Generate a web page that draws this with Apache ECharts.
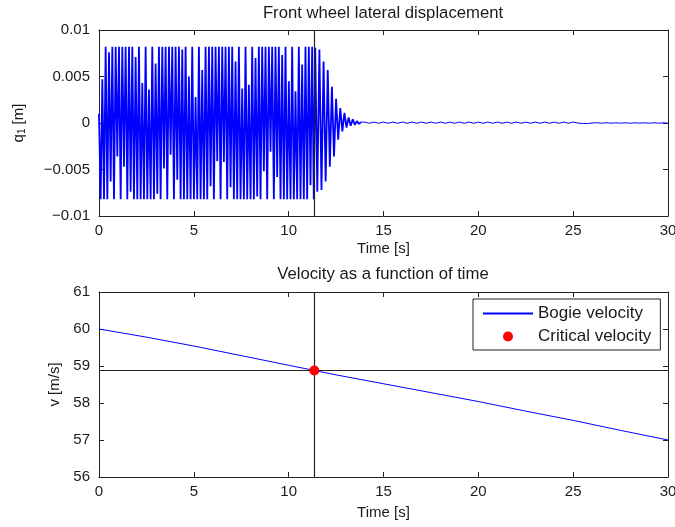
<!DOCTYPE html>
<html>
<head>
<meta charset="utf-8">
<script src="https://cdn.jsdelivr.net/npm/echarts@6/dist/echarts.min.js"></script>
<style>
html,body{margin:0;padding:0;background:#fff;overflow:hidden;}
#chart{width:675px;height:527px;}
</style>
</head>
<body>
<div id="chart"></div>
<script>
// ---- Top plot: front wheel lateral displacement q1 [m] ----
const q1OscStart = 0;
const q1OscStep = 0.0878;
const q1OscValues = [
  0.0010,-0.0082, 0.0047,-0.0082,  0.0082,-0.0082, 0.0076,-0.0063,
  0.0082,-0.0082, 0.0082,-0.0036,  0.0082,-0.0082, 0.0082,-0.0047,
  0.0082,-0.0082, 0.0082,-0.0074,  0.0082,-0.0082, 0.0071,-0.0082,
  0.0082,-0.0082, 0.0043,-0.0082,  0.0082,-0.0082, 0.0036,-0.0082,
  0.0082,-0.0082, 0.0064,-0.0076,  0.0082,-0.0082, 0.0082,-0.0049,
  0.0082,-0.0082, 0.0082,-0.0034,  0.0082,-0.0082, 0.0082,-0.0061,
  0.0082,-0.0082, 0.0079,-0.0082,  0.0082,-0.0082, 0.0050,-0.0082,
  0.0082,-0.0082, 0.0028,-0.0082,  0.0082,-0.0082, 0.0057,-0.0082,
  0.0082,-0.0082, 0.0082,-0.0068,  0.0082,-0.0082, 0.0082,-0.0041,
  0.0082,-0.0082, 0.0082,-0.0042,  0.0082,-0.0082, 0.0082,-0.0069,
  0.0082,-0.0082, 0.0066,-0.0082,  0.0082,-0.0082, 0.0037,-0.0082,
  0.0082,-0.0082, 0.0041,-0.0082,  0.0082,-0.0082, 0.0070,-0.0079,
  0.0082,-0.0082, 0.0082,-0.0052,  0.0082,-0.0082, 0.0082,-0.0031,
  0.0082,-0.0082, 0.0082,-0.0058,  0.0082,-0.0082, 0.0073,-0.0082,
  0.0082,-0.0082, 0.0045,-0.0082,  0.0082,-0.0082, 0.0034,-0.0082,
  0.0082,-0.0082, 0.0063,-0.0082,  0.0082,-0.0082, 0.0082,-0.0067,
  0.0082,-0.0082
];
const q1DecayStart = 11.40;
const q1DecayStep = 0.11;
const q1DecayValues = [
  0.0081,-0.0074, 0.0079,-0.0072, 0.0066,-0.0063, 0.0057,-0.0047, 0.0039,-0.0036,
  0.0026,-0.0018, 0.0016,-0.0009, 0.0011,-0.0005, 0.0006,-0.0003, 0.0004,-0.0002,
  0.0002,-0.0001, 0.0001
];
const q1TailStart = 14.0;
const q1TailStep = 0.25;
const q1TailValues = [
  0.0001,-0.00003, 0.0001,-0.00003, 0.0001,-0.00003, 0.0001,-0.00003, 0.0001,-0.00003,
  0.0001,-0.00003, 0.0001,-0.00003, 0.0001,-0.00003, 0.0001,-0.00003, 0.0001,-0.00003,
  0.0001,-0.00003, 0.0001,-0.00003, 0.0001,-0.00003, 0.0001,-0.00003, 0.0001,-0.00003,
  0.0001,-0.00003, 0.0001,-0.00003, 0.0001,-0.00003, 0.0001,-0.00003, 0.0001,-0.00003,
  0.0001,-0.00003, 0.0001,-0.00003, 0.0001,
  0.0, -0.00006, -0.00006, 0.0, 0.00003, -0.00002,
  0.00002,-0.00002, 0.00002,-0.00002, 0.00002,-0.00002, 0.00002,
  -0.00002, 0.00002,-0.00002, 0.00002,-0.00002, 0.00002,-0.00002
];
const q1YTicks = ['\u22120.01', '\u22120.005', '0', '0.005', '0.01'];

// ---- Bottom plot: velocity ----
const velTime   = [0, 2.5, 5, 7.5, 10, 12.5, 15, 17.5, 20, 22.5, 25, 27.5, 30];
const velValues = [60.0, 59.78, 59.54, 59.28, 59.02, 58.76, 58.52, 58.28, 58.04, 57.78, 57.53, 57.26, 57.0];
const critTime = 11.35;
const critVelocity = 58.88;
const timeTicks = ['0', '5', '10', '15', '20', '25', '30'];
const velTicks = ['56', '57', '58', '59', '60', '61'];

function toPairs(start, step, vals) {
  return vals.map((v, i) => [start + i * step, v]);
}
const q1OscData = toPairs(q1OscStart, q1OscStep, q1OscValues)
  .concat(toPairs(q1DecayStart, q1DecayStep, q1DecayValues));
const q1TailData = [q1OscData[q1OscData.length - 1]]
  .concat(toPairs(q1TailStart, q1TailStep, q1TailValues));
const velData = velTime.map((t, i) => [t, velValues[i]]);

const FONT = 'Liberation Sans, Arial, sans-serif';
const TXT = '#1a1a1a';
const AX = '#222';

function xAxisBottom(gridIndex, gap) {
  return {
    type: 'value', gridIndex, min: 0, max: 30, interval: 5, position: 'bottom',
    name: 'Time [s]', nameLocation: 'middle', nameGap: gap,
    nameTextStyle: { fontFamily: FONT, fontSize: 15, color: TXT },
    axisLine: { show: true, onZero: false, lineStyle: { color: AX, width: 1 } },
    axisTick: { show: true, inside: true, length: 5, lineStyle: { color: AX } },
    axisLabel: { margin: 7, fontFamily: FONT, fontSize: 15, color: TXT,
      formatter: (v, i) => timeTicks[i] },
    splitLine: { show: false }
  };
}
function xAxisTop(gridIndex) {
  return {
    type: 'value', gridIndex, min: 0, max: 30, interval: 5, position: 'top',
    axisLine: { show: true, onZero: false, lineStyle: { color: AX, width: 1 } },
    axisTick: { show: true, inside: true, length: 5, lineStyle: { color: AX } },
    axisLabel: { show: false }, splitLine: { show: false }
  };
}
function yAxisRight(gridIndex, min, max, interval) {
  return {
    type: 'value', gridIndex, min, max, interval, position: 'right',
    axisLine: { show: true, onZero: false, lineStyle: { color: AX, width: 1 } },
    axisTick: { show: true, inside: true, length: 5, lineStyle: { color: AX } },
    axisLabel: { show: false }, splitLine: { show: false }
  };
}
function titleText(text, y) {
  return {
    type: 'text', x: 383, y: y, silent: true,
    style: { text, textAlign: 'center', textVerticalAlign: 'middle',
      fontFamily: FONT, fontSize: 16.7, fill: TXT }
  };
}

const option = {
  animation: false,
  backgroundColor: '#fff',
  graphic: [
    titleText('Front wheel lateral displacement', 13),
    titleText('Velocity as a function of time', 274)
  ],
  legend: {
    orient: 'vertical', left: 473, top: 299,
    padding: [6, 9, 5, 9], itemWidth: 50, itemHeight: 10, itemGap: 6,
    backgroundColor: '#fff', borderColor: '#222', borderWidth: 1, borderRadius: 0,
    textStyle: { fontFamily: FONT, fontSize: 17, color: TXT },
    data: [
      { name: 'Bogie velocity', itemStyle: { opacity: 0 } },
      { name: 'Critical velocity', icon: 'circle' }
    ]
  },
  grid: [
    { left: 99, width: 569, top: 30, height: 186, containLabel: false, outerBoundsMode: 'none', show: false },
    { left: 99, width: 569, top: 292, height: 185, containLabel: false, outerBoundsMode: 'none', show: false }
  ],
  xAxis: [xAxisBottom(0, 25), xAxisTop(0), xAxisBottom(1, 28), xAxisTop(1)],
  yAxis: [
    {
      type: 'value', gridIndex: 0, min: -0.01, max: 0.01, interval: 0.005, position: 'left',
      name: '{q|q}{s|1}{q| [m]}', nameLocation: 'middle', nameGap: 72, nameRotate: 90,
      nameTextStyle: { fontFamily: FONT, fontSize: 15, color: TXT,
        rich: { q: { fontFamily: FONT, fontSize: 15, color: TXT },
                s: { fontFamily: FONT, fontSize: 10, color: TXT, verticalAlign: 'bottom', padding: [6, 0, 0, 0] } } },
      axisLine: { show: true, onZero: false, lineStyle: { color: AX, width: 1 } },
      axisTick: { show: true, inside: true, length: 5, lineStyle: { color: AX } },
      axisLabel: { margin: 9, fontFamily: FONT, fontSize: 15, color: TXT,
        formatter: (v, i) => q1YTicks[i] },
      splitLine: { show: false }
    },
    yAxisRight(0, -0.01, 0.01, 0.005),
    {
      type: 'value', gridIndex: 1, min: 56, max: 61, interval: 1, position: 'left',
      name: 'v [m/s]', nameLocation: 'middle', nameGap: 31,
      nameTextStyle: { fontFamily: FONT, fontSize: 15, color: TXT },
      axisLine: { show: true, onZero: false, lineStyle: { color: AX, width: 1 } },
      axisTick: { show: true, inside: true, length: 5, lineStyle: { color: AX } },
      axisLabel: { margin: 9, fontFamily: FONT, fontSize: 15, color: TXT,
        formatter: (v, i) => velTicks[i] },
      splitLine: { show: false }
    },
    yAxisRight(1, 56, 61, 1)
  ],
  series: [
    {
      name: 'q1', type: 'line', xAxisIndex: 0, yAxisIndex: 0, data: q1OscData,
      symbol: 'none', lineStyle: { color: '#0000ff', width: 1.8 }, clip: true,
      markLine: {
        silent: true, symbol: ['none', 'none'], label: { show: false },
        lineStyle: { color: '#222', width: 1.2, type: 'solid' },
        data: [{ xAxis: critTime }]
      }
    },
    {
      name: 'q1 tail', type: 'line', xAxisIndex: 0, yAxisIndex: 0, data: q1TailData,
      symbol: 'none', lineStyle: { color: '#0000ff', width: 1 }, clip: true
    },
    {
      name: 'Bogie velocity', type: 'line', xAxisIndex: 2, yAxisIndex: 2, data: velData,
      symbol: 'none', itemStyle: { color: '#0000ff' }, lineStyle: { color: '#0000ff', width: 1 },
      markLine: {
        silent: true, symbol: ['none', 'none'], label: { show: false },
        lineStyle: { color: '#222', width: 1.2, type: 'solid' },
        data: [{ xAxis: critTime }, { yAxis: critVelocity }]
      }
    },
    {
      name: 'Critical velocity', type: 'scatter', xAxisIndex: 2, yAxisIndex: 2,
      data: [[critTime, critVelocity]], symbol: 'circle', symbolSize: 10,
      itemStyle: { color: '#ff0000', opacity: 1 }, z: 5
    }
  ]
};

const chart = echarts.init(document.getElementById('chart'), null, { renderer: 'canvas' });
chart.setOption(option);
</script>
</body>
</html>
